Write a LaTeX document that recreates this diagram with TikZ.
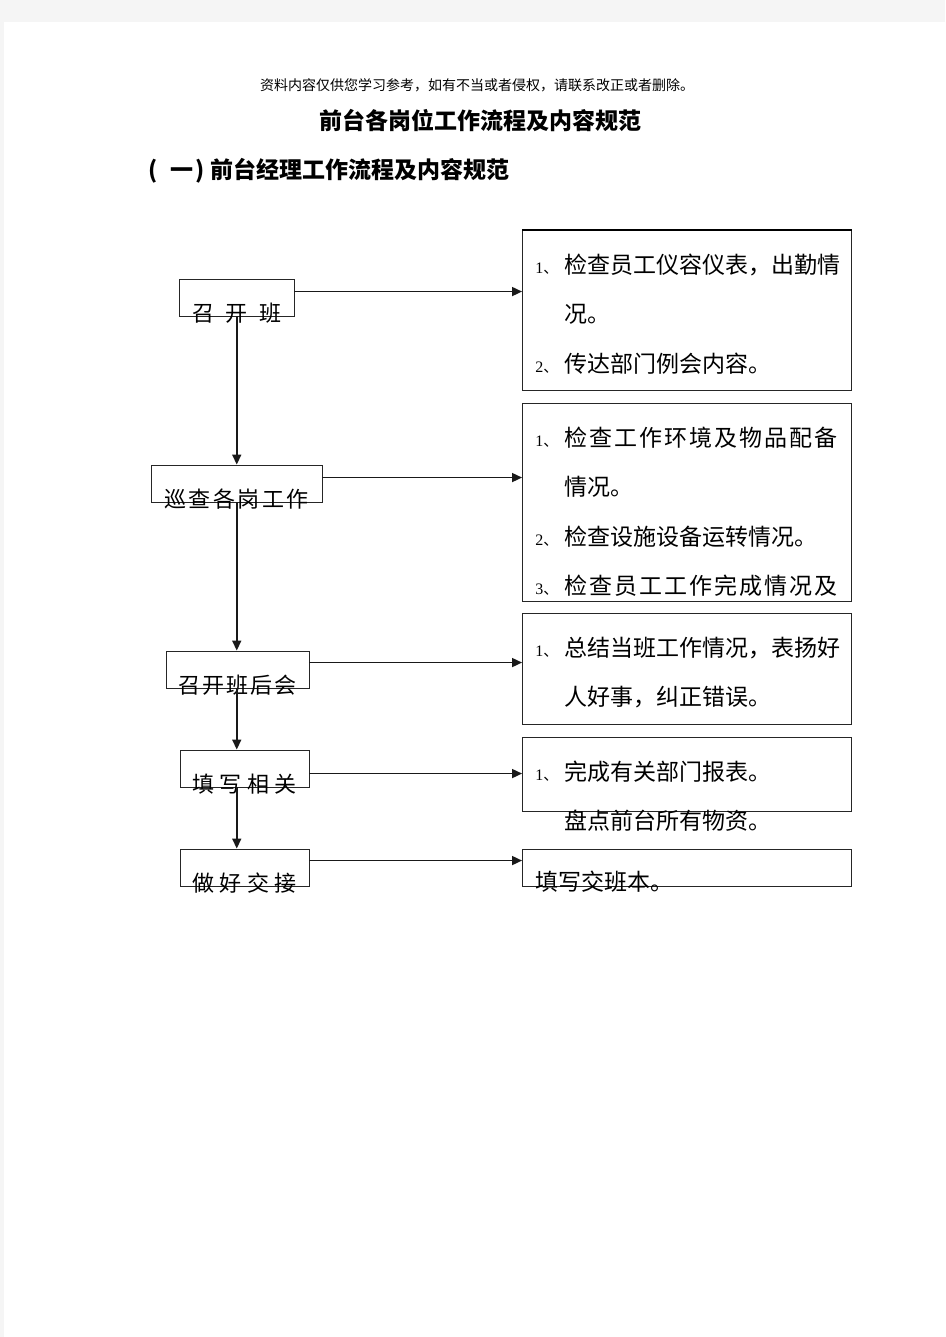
\documentclass[tikz,border=0pt]{standalone}
\usepackage{fontspec}
\setmainfont{Noto Sans CJK SC}
\newfontfamily\numfont{Liberation Serif}
\usetikzlibrary{arrows.meta,calc}
% number in front of a note line
\newcommand\idx[1]{\makebox[29pt][l]{{\numfont\fontsize{16}{16}\selectfont #1}{\fontsize{15}{15}\selectfont 、}}}
\newcommand\loose[1]{{\addfontfeature{LetterSpace=9}#1}}

\tikzset{
  flowbox/.style={draw=black!85, line width=0.9pt, minimum height=37pt, inner sep=0pt},
  notebox/.style={draw=black!85, line width=0.9pt, minimum width=329pt, inner sep=0pt},
  flowtext/.style={font=\fontsize{22}{22}\selectfont, yshift=-15.5pt},
  notetext/.style={font=\fontsize{23}{49.5}\selectfont, align=left, anchor=north west, inner sep=0pt, xshift=13pt, yshift=-24pt},
  flowarrow/.style={draw=black!90, line width=1.6pt, -{Triangle[length=10pt,width=9pt]}}
}

\begin{document}
\begin{tikzpicture}[x=1pt,y=-1pt]
  %%%%% PAGE %%%%%
  \useasboundingbox (0,0) rectangle (945,1337);
  \fill[black!4] (0,0) rectangle (945,1337);
  \fill[white] (4,22) rectangle (945,1337);

  %%%%% HEADINGS %%%%%
  \node[font=\fontsize{14}{14}\selectfont] (disclaimer) at (477,85) {资料内容仅供您学习参考，如有不当或者侵权，请联系改正或者删除。};
  \node[font=\fontsize{23}{23}\selectfont\bfseries] (title) at (480,121) {前台各岗位工作流程及内容规范};
  \node[anchor=west, inner sep=0pt, font=\fontsize{23}{23}\selectfont\bfseries] (section) at (148,171) {(\hspace{13pt}一\kern2pt)\hspace{6pt}前台经理工作流程及内容规范};

  %%%%% FLOW (left) %%%%%
  \node[flowbox, minimum width=114.5pt, label={[flowtext]center:召\kern11.5pt 开\kern11.5pt 班}] (open) at (236.75,297.5) {};
  \node[flowbox, minimum width=171pt, label={[flowtext]center:巡\kern2.6pt 查\kern2.6pt 各\kern2.6pt 岗\kern2.6pt 工\kern2.6pt 作}] (patrol) at (236.5,483.5) {};
  \node[flowbox, minimum width=143pt, label={[flowtext]center:召\kern2pt 开\kern2pt 班\kern2pt 后\kern2pt 会}] (debrief) at (237.5,669.5) {};
  \node[flowbox, minimum width=129pt, label={[flowtext]center:填\kern5.3pt 写\kern5.3pt 相\kern5.3pt 关}] (report) at (244.5,768.5) {};
  \node[flowbox, minimum width=129pt, label={[flowtext]center:做\kern5.3pt 好\kern5.3pt 交\kern5.3pt 接}] (handover) at (244.5,867.5) {};

  %%%%% NOTES (right) %%%%%
  \node[notebox, minimum height=160pt, label={[notetext]north west:\idx{1}检查员工仪容仪表，出勤情\\\hspace*{29pt}况。\\\idx{2}传达部门例会内容。}] (briefnote) at (687,310) {};
  \draw[line width=2pt] (briefnote.north west) -- (briefnote.north east);
  \node[notebox, minimum height=198pt, label={[notetext]north west:\idx{1}\loose{检查工作环境及物品配备}\\\hspace*{29pt}情况。\\\idx{2}检查设施设备运转情况。\\\idx{3}\loose{检查员工工作完成情况及}}] (patrolnote) at (687,502) {};
  \node[notebox, minimum height=111pt, label={[notetext]north west:\idx{1}总结当班工作情况，表扬好\\\hspace*{29pt}人好事，纠正错误。}] (debriefnote) at (687,668.5) {};
  \node[notebox, minimum height=74pt, label={[notetext]north west:\idx{1}完成有关部门报表。\\\hspace*{29pt}盘点前台所有物资。}] (reportnote) at (687,774) {};
  \node[notebox, minimum height=37pt, label={[notetext, yshift=2pt]north west:填写交班本。}] (handnote) at (687,867.5) {};

  %%%%% ARROWS %%%%%
  \draw[flowarrow] (open.south) -- (open.south |- patrol.north);
  \draw[flowarrow] (open.south |- patrol.south) -- (open.south |- debrief.north);
  \draw[flowarrow] (open.south |- debrief.south) -- (open.south |- report.north);
  \draw[flowarrow] (open.south |- report.south) -- (open.south |- handover.north);

  \path ([yshift=-13pt]open.north east) coordinate (o1)
        ([yshift=-13pt]patrol.north east) coordinate (o2)
        ([yshift=-12pt]debrief.north east) coordinate (o3)
        ([yshift=-24pt]report.north east) coordinate (o4)
        ([yshift=-12pt]handover.north east) coordinate (o5);
  \draw[flowarrow] (o1) -- (o1 -| briefnote.west);
  \draw[flowarrow] (o2) -- (o2 -| patrolnote.west);
  \draw[flowarrow] (o3) -- (o3 -| debriefnote.west);
  \draw[flowarrow] (o4) -- (o4 -| reportnote.west);
  \draw[flowarrow] (o5) -- (o5 -| handnote.west);
\end{tikzpicture}
\end{document}
